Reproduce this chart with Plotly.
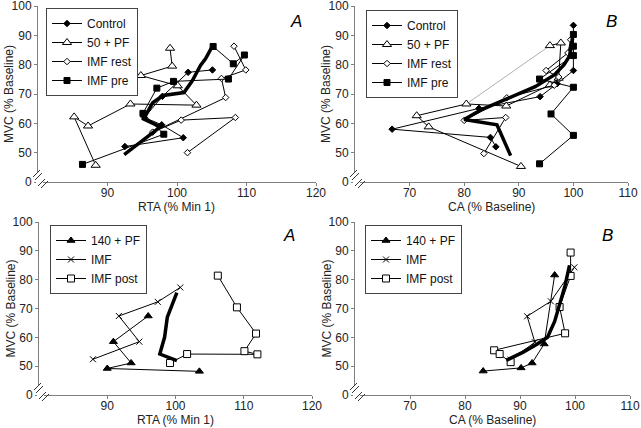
import plotly.graph_objects as go

W, H = 641, 428

# ---------------- data ----------------
# Top-left (A): RTA (% Min 1) vs MVC (% Baseline)
ctl_a_x = [105.1, 101.6, 97.9, 95.3, 97.8, 100.9, 92.5]
ctl_a_y = [78.2, 77.4, 69.2, 62.0, 59.5, 55.1, 52.1]
pf50_a_x = [99.0, 99.3, 94.8, 100.1, 102.8, 93.3, 87.2, 85.2, 88.3]
pf50_a_y = [85.6, 79.5, 76.3, 72.8, 66.2, 66.6, 59.1, 62.2, 45.7]
rest_a_x = [108.2, 109.9, 106.4, 107.0, 96.5, 100.6, 108.4, 101.5]
rest_a_y = [86.3, 78.2, 75.3, 68.8, 57.0, 61.1, 62.0, 50.0]
pre_a_x = [105.2, 108.1, 109.7, 107.4, 99.5, 97.1, 95.1, 98.1, 86.4]
pre_a_y = [86.2, 80.3, 83.3, 75.1, 74.3, 72.0, 63.4, 56.3, 46.0]
mean_a_x = [92.4, 97.6, 95.2, 96.5, 98.0, 101.0, 102.2, 103.4, 104.1, 105.1]
mean_a_y = [49.3, 58.8, 61.5, 67.0, 69.5, 70.5, 74.5, 79.8, 82.0, 86.3]

# Top-right (B): CA (% Baseline) vs MVC
ctl_b_x = [100.0, 100.0, 97.0, 93.9, 82.7, 66.8, 84.8, 85.8]
ctl_b_y = [93.4, 78.0, 73.5, 69.1, 65.1, 58.0, 55.2, 52.0]
pf50_b_x = [95.7, 97.7, 97.3, 95.7, 87.7, 80.4, 71.3, 73.5, 90.4]
pf50_b_y = [86.5, 87.4, 75.4, 73.1, 65.9, 66.6, 62.6, 58.8, 45.3]
gray_b_x = [95.7, 80.4]
gray_b_y = [86.5, 66.6]
rest_b_x = [99.5, 99.0, 95.0, 97.3, 96.5, 87.8, 80.0, 87.6, 83.6]
rest_b_y = [88.5, 84.0, 78.0, 75.8, 73.0, 68.7, 61.0, 62.0, 49.7]
pre_b_x = [100.0, 100.0, 100.0, 93.8, 100.0, 95.9, 100.0, 93.8]
pre_b_y = [90.3, 86.3, 83.1, 75.1, 72.3, 63.2, 55.9, 46.2]
mean_b_x = [88.5, 86.0, 80.0, 83.0, 88.0, 93.0, 96.5, 98.3, 99.3, 99.6, 99.9]
mean_b_y = [49.0, 59.5, 61.3, 64.5, 68.5, 72.5, 76.5, 80.0, 83.0, 87.0, 90.0]

# Bottom-left (A)
pf140_c_x = [96.0, 90.9, 93.5, 90.0, 103.5]
pf140_c_y = [67.4, 58.5, 51.1, 49.2, 48.2]
imf_c_x = [100.7, 97.4, 91.7, 94.7, 87.9]
imf_c_y = [77.3, 72.3, 67.4, 58.5, 52.4]
post_c_x = [106.2, 109.0, 111.8, 110.1, 112.0, 101.7, 99.2]
post_c_y = [81.4, 70.4, 61.3, 55.2, 54.1, 54.2, 51.1]
mean_c_x = [100.2, 98.8, 98.4, 97.7, 100.2]
mean_c_y = [75.5, 67.0, 60.0, 54.2, 51.9]

# Bottom-right (B)
pf140_d_x = [96.3, 94.4, 92.2, 90.2, 83.3]
pf140_d_y = [81.6, 57.7, 51.1, 49.4, 48.3]
imf_d_x = [99.9, 95.6, 91.3, 92.7, 88.3]
imf_d_y = [84.3, 72.5, 67.3, 58.3, 52.2]
post_d_x = [99.2, 99.2, 97.2, 98.2, 85.3, 86.3, 88.3]
post_d_y = [89.4, 81.3, 70.5, 61.4, 55.5, 54.2, 51.4]
mean_d_x = [87.5, 90.5, 93.0, 95.0, 96.3, 97.3, 98.2, 99.0]
mean_d_y = [52.0, 54.8, 57.5, 60.0, 65.5, 72.0, 78.0, 85.0]

y_ticks = [40, 50, 60, 70, 80, 90, 100]
y_ticktext = ["0", "50", "60", "70", "80", "90", "100"]
rta_ticks = [90, 100, 110, 120]
ca_ticks = [70, 80, 90, 100, 110]

FONT = "Liberation Sans, Arial, sans-serif"
BLACK = "#000000"
TXT = "#222222"

fig = go.Figure()

def series(x, y, name, xa, ya, leg, symbol, size, fill, lw=1.0, show=True, color=BLACK):
    fig.add_trace(go.Scatter(
        x=x, y=y, name=name, xaxis=xa, yaxis=ya, legend=leg,
        mode="lines+markers" if symbol else "lines",
        line=dict(color=color, width=lw),
        marker=dict(symbol=symbol or "circle", size=size, color=fill,
                    line=dict(color=BLACK, width=1)) if symbol else None,
        showlegend=show))

# Top-left
series(ctl_a_x, ctl_a_y, "Control", "x", "y", "legend", "diamond", 5, BLACK)
series(pf50_a_x, pf50_a_y, "50 + PF", "x", "y", "legend", "triangle-up", 8, "white")
series(rest_a_x, rest_a_y, "IMF rest", "x", "y", "legend", "diamond", 5, "white")
series(pre_a_x, pre_a_y, "IMF pre", "x", "y", "legend", "square", 6, BLACK)
series(mean_a_x, mean_a_y, "mean", "x", "y", "legend", None, 0, None, lw=3.5, show=False)

# Top-right
series(gray_b_x, gray_b_y, "gray", "x2", "y2", "legend2", None, 0, None, lw=1, show=False, color="#b0b0b0")
series(ctl_b_x, ctl_b_y, "Control", "x2", "y2", "legend2", "diamond", 5, BLACK)
series(pf50_b_x, pf50_b_y, "50 + PF", "x2", "y2", "legend2", "triangle-up", 8, "white")
series(rest_b_x, rest_b_y, "IMF rest", "x2", "y2", "legend2", "diamond", 5, "white")
series(pre_b_x, pre_b_y, "IMF pre", "x2", "y2", "legend2", "square", 6, BLACK)
series(mean_b_x, mean_b_y, "mean", "x2", "y2", "legend2", None, 0, None, lw=3.5, show=False)

# Bottom-left
series(pf140_c_x, pf140_c_y, "140 + PF", "x3", "y3", "legend3", "triangle-up", 7, BLACK)
series(imf_c_x, imf_c_y, "IMF", "x3", "y3", "legend3", "x-thin", 6, BLACK)
series(post_c_x, post_c_y, "IMF post", "x3", "y3", "legend3", "square", 7, "white")
series(mean_c_x, mean_c_y, "mean", "x3", "y3", "legend3", None, 0, None, lw=3.5, show=False)

# Bottom-right
series(pf140_d_x, pf140_d_y, "140 + PF", "x4", "y4", "legend4", "triangle-up", 7, BLACK)
series(imf_d_x, imf_d_y, "IMF", "x4", "y4", "legend4", "x-thin", 6, BLACK)
series(post_d_x, post_d_y, "IMF post", "x4", "y4", "legend4", "square", 7, "white")
series(mean_d_x, mean_d_y, "mean", "x4", "y4", "legend4", None, 0, None, lw=3.5, show=False)

# ---------------- layout ----------------
def px_x(p):
    return p / W

def px_y(p):
    return 1 - p / H

panels = {
    # name: (left, right, top, bottom) in pixels
    "1": (38, 316, 6, 182),
    "2": (355, 628, 6, 182),
    "3": (39, 312, 222, 395),
    "4": (355, 630, 222, 395),
}

axis_common = dict(showline=True, linecolor="#7f7f7f", linewidth=1, ticks="outside",
                   ticklen=3, tickcolor="#7f7f7f", showgrid=False, zeroline=False,
                   automargin=False, ticklabeloverflow="allow",
                   tickfont=dict(family=FONT, size=12, color=TXT))

layout = dict(width=W, height=H, margin=dict(l=0, r=0, t=0, b=0, pad=0, autoexpand=False),
              plot_bgcolor="white", paper_bgcolor="white",
              font=dict(family=FONT, size=12, color=TXT))

xinfo = {"1": ([80, 120], rta_ticks, "RTA (% Min 1)"),
         "2": ([60, 110], ca_ticks, "CA (% Baseline)"),
         "3": ([80, 120], rta_ticks, "RTA (% Min 1)"),
         "4": ([60, 110], ca_ticks, "CA (% Baseline)")}

annotations = []
for k, (l, r, t, b) in panels.items():
    xn = "xaxis" if k == "1" else f"xaxis{k}"
    yn = "yaxis" if k == "1" else f"yaxis{k}"
    rng, tv, title = xinfo[k]
    layout[xn] = dict(domain=[px_x(l), px_x(r)], range=rng, tickvals=tv,
                      ticklabelstandoff=-3,
                      anchor="y" if k == "1" else f"y{k}", **axis_common)
    layout[yn] = dict(domain=[px_y(b), px_y(t)], range=[40, 100], tickvals=y_ticks,
                      ticktext=y_ticktext, anchor="x" if k == "1" else f"x{k}",
                      **axis_common)
    # axis titles
    annotations.append(dict(x=px_x((l + r) / 2), y=px_y(b + 25), xref="paper", yref="paper",
                            text=title, showarrow=False, xanchor="center", yanchor="middle",
                            font=dict(family=FONT, size=12, color=TXT)))
    annotations.append(dict(x=px_x(l - 29), y=px_y((t + b) / 2), xref="paper", yref="paper",
                            text="MVC (% Baseline)", showarrow=False, textangle=-90,
                            xanchor="center", yanchor="middle",
                            font=dict(family=FONT, size=12, color=TXT)))

leg_common = dict(bordercolor="#444444", borderwidth=1, bgcolor="white",
                  font=dict(family=FONT, size=12, color="#111111"),
                  xanchor="left", yanchor="top", itemwidth=30, traceorder="normal")
layout["legend"] = dict(x=px_x(46), y=px_y(8), **leg_common)
layout["legend2"] = dict(x=px_x(366), y=px_y(10), **leg_common)
layout["legend3"] = dict(x=px_x(50), y=px_y(225), **leg_common)
layout["legend4"] = dict(x=px_x(365), y=px_y(225), **leg_common)

# panel letters
for txt, x, y in [("A", 296, 21), ("B", 611, 21), ("A", 289, 235), ("B", 607, 235)]:
    annotations.append(dict(x=px_x(x), y=px_y(y), xref="paper", yref="paper", text="<i>" + txt + "</i>",
                            showarrow=False, font=dict(family=FONT, size=17, color=BLACK),
                            xanchor="center", yanchor="middle"))
layout["annotations"] = annotations

# axis break marks at each corner
shapes = []
for k, (l, r, t, b) in panels.items():
    cx, cy = l, b
    shapes.append(dict(type="rect", xref="paper", yref="paper",
                       x0=px_x(cx - 2), x1=px_x(cx + 5), y0=px_y(cy + 2), y1=px_y(cy - 9),
                       fillcolor="white", line=dict(width=0), layer="above"))
    for (x0, y0, x1, y1) in [(-5, -5, 2, -12), (-3, -2, 4, -9), (0, 4, 7, -3), (3, 6, 10, -1)]:
        shapes.append(dict(type="line", xref="paper", yref="paper",
                           x0=px_x(cx + x0), y0=px_y(cy + y0), x1=px_x(cx + x1), y1=px_y(cy + y1),
                           line=dict(color="#333333", width=1), layer="above"))
layout["shapes"] = shapes

fig.update_layout(**layout)
fig.write_html("out.html", config={"displayModeBar": False},
               post_script="document.body.style.margin='0';document.body.style.overflow='hidden';")
